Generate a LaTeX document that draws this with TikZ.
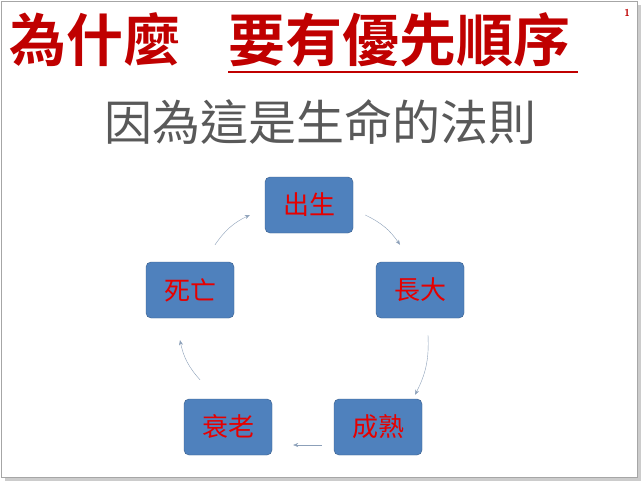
\documentclass[tikz,border=0pt]{standalone}
\usepackage{fontspec}
\newfontfamily\cjk{Noto Sans CJK TC}
\newfontfamily\cjkb{Noto Sans CJK TC Bold}
\usetikzlibrary{arrows.meta}
\definecolor{title_red}{RGB}{192,0,0}
\definecolor{box_blue}{RGB}{79,129,189}
\definecolor{box_edge}{RGB}{56,93,138}
\definecolor{text_red}{RGB}{230,0,0}
\definecolor{sub_gray}{RGB}{89,89,89}
\definecolor{arc_gray}{RGB}{140,160,185}
\begin{document}
\begin{tikzpicture}[x=1pt,y=-1pt,>={Stealth[length=5pt,width=4pt]}]
    \tikzstyle{stage}=[draw=box_edge, fill=box_blue, rounded corners=5pt, minimum width=88pt, minimum height=56pt, text=text_red, font=\cjk\fontsize{26}{26}\selectfont]
    \tikzstyle{cycle}=[->, arc_gray, thin]

    \useasboundingbox (0,0) rectangle (644,484);
    \fill[gray!40] (5,5) rectangle (641,481);
    \draw[gray!70, fill=white] (1,1) rectangle (637,477);

    \node[text=title_red, font=\cjkb\fontsize{57}{57}\selectfont, anchor=west, inner sep=0pt] (why) at (9,40) {為什麼};
    \node[text=title_red, font=\cjkb\fontsize{57}{57}\selectfont, anchor=west, inner sep=0pt] (order) at (228,40) {要有優先順序};
    \draw[title_red, line width=2pt] (228,72) -- (578,72);
    \node[text=title_red, font=\sffamily\bfseries] (page) at (627,13) {1};
    \node[text=sub_gray, font=\cjk\fontsize{48}{48}\selectfont] (why2) at (320,122) {因為這是生命的法則};

    \node[stage] (birth) at (309,205) {出生};
    \node[stage] (grow)  at (420,290) {長大};
    \node[stage] (ripe)  at (378,427) {成熟};
    \node[stage] (old)   at (228,427) {衰老};
    \node[stage] (death) at (190,290) {死亡};

    \path
     (birth.east) ++(12,10) coordinate (b1)
     (grow.north) ++(-20,-17) coordinate (g0)
     (grow.south) ++(8,17) coordinate (g1)
     (ripe.north) ++(37,-4) coordinate (r0)
     (ripe.west) ++(-12,18) coordinate (r1)
     (old.east) ++(21,18) coordinate (o0)
     (old.north) ++(-28,-19) coordinate (o1)
     (death.south) ++(-10,22) coordinate (d0)
     (death.north) ++(25,-17) coordinate (d1)
     (birth.west) ++(-15,10) coordinate (b0)
     ;
    \draw[cycle] (b1) to[bend left=15] (g0);
    \draw[cycle] (g1) to[bend left=15] (r0);
    \draw[cycle] (r1) to (o0);
    \draw[cycle] (o1) to[bend left=15] (d0);
    \draw[cycle] (d1) to[bend left=15] (b0);
\end{tikzpicture}
\end{document}
